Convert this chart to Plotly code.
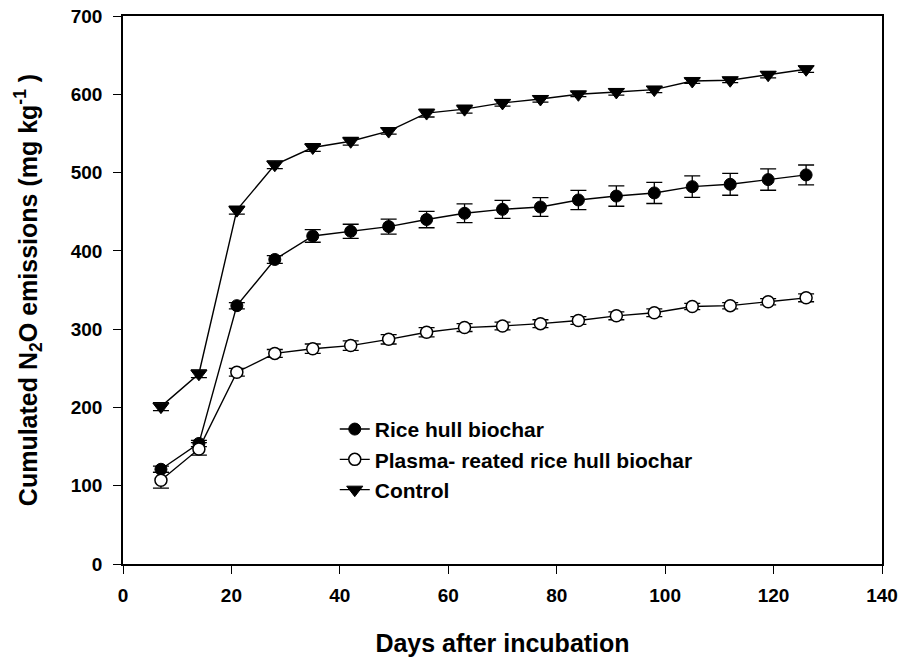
import plotly.graph_objects as go

days = [7, 14, 21, 28, 35, 42, 49, 56, 63, 70, 77, 84, 91, 98, 105, 112, 119, 126]

rice_hull = [121, 154, 330, 389, 419, 425, 431, 440, 448, 453, 456, 465, 470, 474, 482, 485, 491, 497]
rice_hull_err = [4, 4, 4, 5, 8, 9, 9.5, 10.5, 12, 11.5, 12, 12.3, 13, 13.5, 13.7, 14, 13.6, 12.7]

plasma = [107, 147, 245, 269, 275, 279, 287, 296, 302, 304, 307, 311, 317, 321, 329, 330, 335, 340]
plasma_err = [10, 8, 5, 5, 6, 6, 6, 6, 5, 5, 5, 5, 5, 5, 4, 4, 4, 5]

control = [201, 243, 452, 510, 532, 540, 553, 576, 581, 589, 594, 600, 603, 606, 617, 618, 625, 632]
control_err = [5, 5, 5, 5, 5, 5, 4, 5, 5, 4, 4, 3, 4, 4, 3, 3, 4, 4]

names = ["Rice hull biochar", "Plasma- reated rice hull biochar", "Control"]

x_ticks = [0, 20, 40, 60, 80, 100, 120, 140]
y_ticks = [0, 100, 200, 300, 400, 500, 600, 700]

FONT = "Liberation Sans, Arial, sans-serif"

def err(vals):
    return dict(type="data", array=vals, visible=True, color="black", thickness=1.3, width=8)

fig = go.Figure()
fig.add_trace(go.Scatter(
    x=days, y=control, error_y=err(control_err), mode="lines+markers", name=names[2],
    legendrank=3, legendgroup="c",
    line=dict(color="black", width=1.4),
    marker=dict(symbol="triangle-down", size=14, color="black", line=dict(color="black", width=1)),
))
fig.add_trace(go.Scatter(
    x=days, y=rice_hull, error_y=err(rice_hull_err), mode="lines+markers", name=names[0],
    legendrank=1, legendgroup="a",
    line=dict(color="black", width=1.4),
    marker=dict(symbol="circle", size=12, color="black", line=dict(color="black", width=1)),
))
fig.add_trace(go.Scatter(
    x=days, y=plasma, error_y=err(plasma_err), mode="lines+markers", name=names[1],
    legendrank=2, legendgroup="b",
    line=dict(color="black", width=1.4),
    marker=dict(symbol="circle", size=12, color="white", line=dict(color="black", width=1.5)),
))

axis_common = dict(
    showline=True, linecolor="black", linewidth=1.5, mirror=True,
    ticks="outside", ticklen=8, tickwidth=1.3, tickcolor="black",
    showgrid=False, zeroline=False, automargin=False,
    ticklabeloverflow="allow",
    tickfont=dict(family=FONT, size=19, color="black"),
)

fig.update_xaxes(
    range=[0, 140], tickmode="array", tickvals=x_ticks,
    ticktext=["<b>%d</b>" % v for v in x_ticks], ticklabelstandoff=5,
    title=dict(text="<b>Days after incubation</b>", font=dict(family=FONT, size=25, color="black"), standoff=30),
    **axis_common,
)
fig.update_yaxes(
    range=[0, 700], tickmode="array", tickvals=y_ticks,
    ticktext=["<b>%d</b>" % v for v in y_ticks], ticklabelstandoff=7,
    title=dict(text="<b>Cumulated N<sub>2</sub>O emissions (mg kg<sup>-1</sup> )</b>",
               font=dict(family=FONT, size=25, color="black"), standoff=26),
    **axis_common,
)

fig.update_layout(
    width=901, height=658, autosize=False,
    margin=dict(l=123, r=19, t=16, b=94),
    plot_bgcolor="white", paper_bgcolor="white",
    showlegend=True,
    legend=dict(
        x=0.279, y=0.283, xanchor="left", yanchor="top",
        bgcolor="rgba(0,0,0,0)", borderwidth=0,
        font=dict(family=FONT, size=21, color="black", weight="bold"),
        tracegroupgap=0, traceorder="normal",
    ),
)

fig.write_html(
    "out.html",
    config={"displayModeBar": False},
    post_script="document.body.style.margin='0';document.body.style.overflow='hidden';",
)
